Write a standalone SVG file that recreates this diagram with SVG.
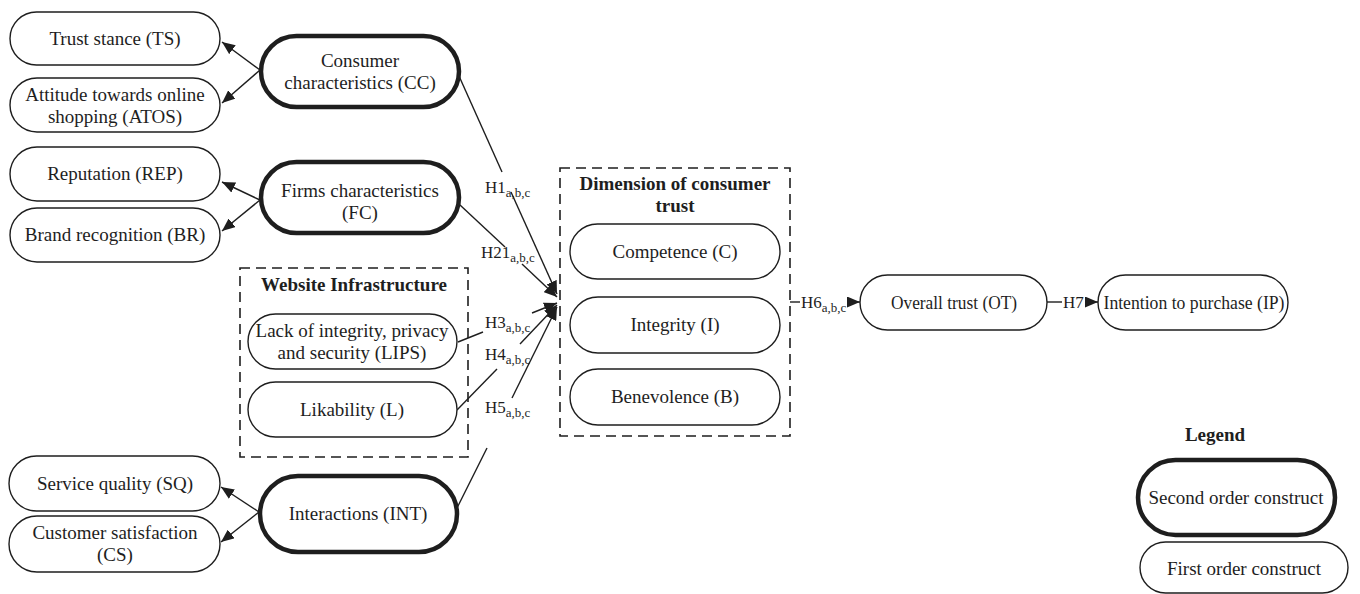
<svg xmlns="http://www.w3.org/2000/svg" width="1360" height="594" viewBox="0 0 1360 594">
<style>
text{font-family:"Liberation Serif","Times New Roman",serif;fill:#1e1e1e;}
.t{font-size:19px;text-anchor:middle;}
.b{font-size:19px;font-weight:bold;text-anchor:middle;}
.h{font-size:17px;}
.s{font-size:13px;}
.n1{fill:#fff;stroke:#1e1e1e;stroke-width:1.4;}
.n2{fill:#fff;stroke:#1e1e1e;stroke-width:4.5;}
.box{fill:none;stroke:#1e1e1e;stroke-width:1.6;stroke-dasharray:10,6;}
.c{fill:none;stroke:#1e1e1e;stroke-width:1.4;}
.ca{fill:none;stroke:#1e1e1e;stroke-width:1.4;marker-end:url(#ah);}
</style>
<defs>
<marker id="ah" markerUnits="userSpaceOnUse" markerWidth="13" markerHeight="11" refX="13" refY="5.5" orient="auto">
<path d="M0,0 L13,5.5 L0,11 z" fill="#1e1e1e"/>
</marker>
</defs>
<rect width="1360" height="594" fill="#fff"/>

<g id="website-infrastructure">
<rect class="box" x="240" y="268" width="228" height="189"/>
<text class="b" x="354" y="291">Website Infrastructure</text>
</g>
<g id="dimension-box">
<rect class="box" x="560" y="168" width="230" height="268"/>
<text class="b" x="675" y="190">Dimension of consumer</text>
<text class="b" x="675" y="212">trust</text>
</g>

<g id="connectors">
<line class="ca" x1="260" y1="70" x2="222" y2="42"/>
<line class="ca" x1="260" y1="70" x2="222" y2="103"/>
<line class="ca" x1="260" y1="200" x2="222" y2="182"/>
<line class="ca" x1="260" y1="200" x2="222" y2="231"/>
<line class="ca" x1="259" y1="512" x2="221" y2="487"/>
<line class="ca" x1="259" y1="512" x2="221" y2="542"/>
<line class="c" x1="459" y1="76" x2="502" y2="172"/>
<line class="ca" x1="511" y1="192" x2="557" y2="294"/>
<line class="c" x1="460" y1="205" x2="505" y2="247"/>
<line class="ca" x1="522" y1="264" x2="557" y2="297"/>
<line class="c" x1="458" y1="342" x2="483" y2="332"/>
<line class="ca" x1="532" y1="313" x2="557" y2="303"/>
<line class="c" x1="457" y1="410" x2="497" y2="369"/>
<line class="ca" x1="520" y1="344" x2="557" y2="305"/>
<line class="c" x1="457" y1="508" x2="487" y2="448"/>
<line class="ca" x1="512" y1="398" x2="557" y2="307"/>
<line class="c" x1="790" y1="302" x2="800" y2="302"/>
<line class="ca" x1="848" y1="302" x2="860" y2="302"/>
<line class="c" x1="1047" y1="302" x2="1062" y2="302"/>
<line class="ca" x1="1085" y1="302" x2="1098" y2="302"/>
<text class="h" x="485" y="193">H1<tspan class="s" dy="4">a,b,c</tspan></text>
<text class="h" x="481" y="258">H21<tspan class="s" dy="4">a,b,c</tspan></text>
<text class="h" x="485" y="328">H3<tspan class="s" dy="4">a,b,c</tspan></text>
<text class="h" x="485" y="360">H4<tspan class="s" dy="4">a,b,c</tspan></text>
<text class="h" x="485" y="413">H5<tspan class="s" dy="4">a,b,c</tspan></text>
<text class="h" x="801" y="308">H6<tspan class="s" dy="4">a,b,c</tspan></text>
<text class="h" x="1063" y="308">H7</text>
</g>

<g id="TS"><rect class="n1" x="10" y="12" width="210" height="53" rx="26.5"/><text class="t" x="115" y="45">Trust stance (TS)</text></g>
<g id="ATOS"><rect class="n1" x="10" y="78" width="210" height="54" rx="27"/><text class="t" x="115" y="101">Attitude towards online</text><text class="t" x="115" y="123">shopping (ATOS)</text></g>
<g id="CC"><rect class="n2" x="261" y="36" width="198" height="71" rx="35.5"/><text class="t" x="360" y="67">Consumer</text><text class="t" x="360" y="89">characteristics (CC)</text></g>
<g id="REP"><rect class="n1" x="10" y="147" width="210" height="54" rx="27"/><text class="t" x="115" y="180">Reputation (REP)</text></g>
<g id="BR"><rect class="n1" x="10" y="208" width="210" height="54" rx="27"/><text class="t" x="115" y="241">Brand recognition (BR)</text></g>
<g id="FC"><rect class="n2" x="261" y="162" width="198" height="71" rx="35.5"/><text class="t" x="360" y="197">Firms characteristics</text><text class="t" x="360" y="219">(FC)</text></g>
<g id="LIPS"><rect class="n1" x="248" y="314" width="209" height="55" rx="27.5"/><text class="t" x="352" y="337">Lack of integrity, privacy</text><text class="t" x="352" y="359">and security (LIPS)</text></g>
<g id="L"><rect class="n1" x="248" y="382" width="209" height="55" rx="27.5"/><text class="t" x="352" y="416">Likability (L)</text></g>
<g id="SQ"><rect class="n1" x="9" y="456" width="211" height="55" rx="27.5"/><text class="t" x="115" y="490">Service quality (SQ)</text></g>
<g id="CS"><rect class="n1" x="9" y="516" width="211" height="56" rx="28"/><text class="t" x="115" y="539">Customer satisfaction</text><text class="t" x="115" y="561">(CS)</text></g>
<g id="INT"><rect class="n2" x="260" y="476" width="197" height="76" rx="38"/><text class="t" x="358" y="520">Interactions (INT)</text></g>
<g id="C"><rect class="n1" x="570" y="224" width="210" height="55" rx="27.5"/><text class="t" x="675" y="258">Competence (C)</text></g>
<g id="I"><rect class="n1" x="570" y="297" width="210" height="56" rx="28"/><text class="t" x="675" y="331">Integrity (I)</text></g>
<g id="B"><rect class="n1" x="570" y="369" width="210" height="56" rx="28"/><text class="t" x="675" y="403">Benevolence (B)</text></g>
<g id="OT"><rect class="n1" x="860" y="275" width="187" height="55" rx="27.5"/><text class="t" x="954" y="309" textLength="126" lengthAdjust="spacingAndGlyphs">Overall trust (OT)</text></g>
<g id="IP"><rect class="n1" x="1098" y="275" width="190" height="55" rx="27.5"/><text class="t" x="1194" y="309" textLength="181" lengthAdjust="spacingAndGlyphs">Intention to purchase (IP)</text></g>

<g id="legend">
<text class="b" x="1215" y="441">Legend</text>
<rect class="n2" x="1138" y="460" width="197" height="75" rx="37.5"/><text class="t" x="1236" y="504">Second order construct</text>
<rect class="n1" x="1140" y="542" width="208" height="51" rx="25.5"/><text class="t" x="1244" y="575">First order construct</text>
</g>
</svg>
